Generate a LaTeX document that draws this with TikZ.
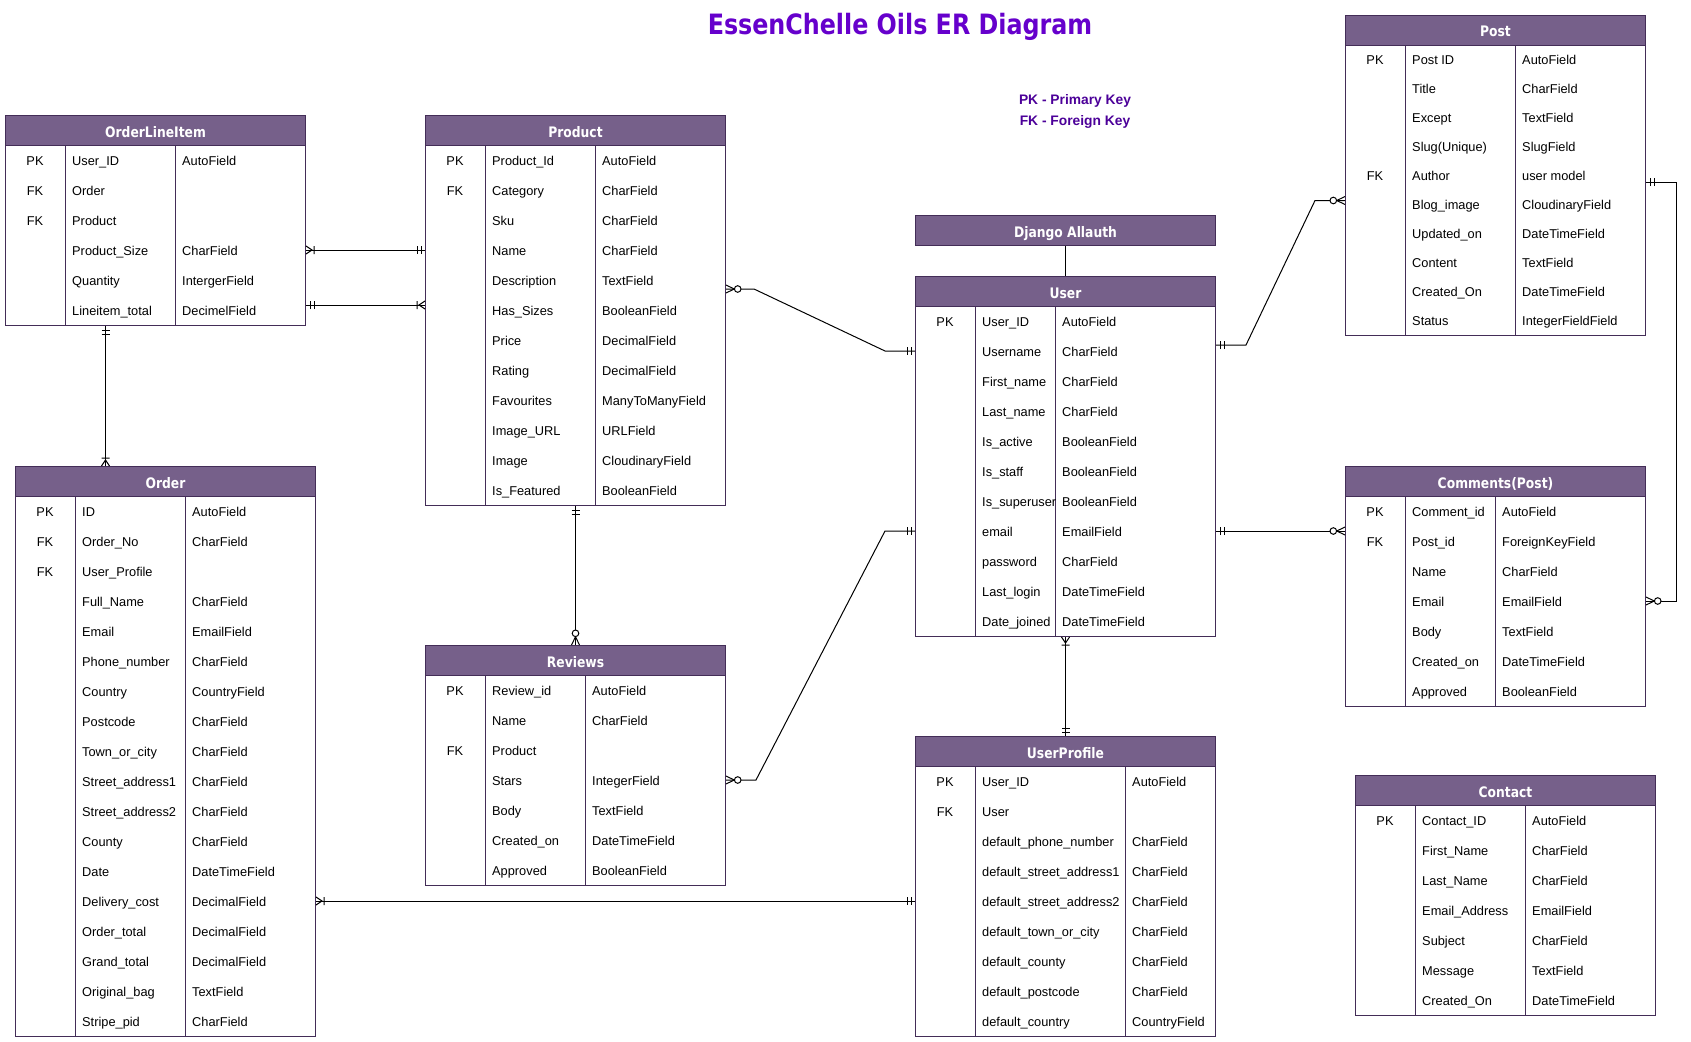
\documentclass[tikz,border=0pt]{standalone}
\usepackage{fontspec}
\setmainfont{Liberation Sans}
\newfontfamily\headface{DejaVu Sans}[FakeStretch=0.85]
\usetikzlibrary{arrows.meta,calc,positioning}

\definecolor{erfill}{HTML}{76608A}
\definecolor{erline}{HTML}{432D57}
\definecolor{titlepurple}{HTML}{6600CC}
\definecolor{keypurple}{HTML}{4C0099}

% crow's foot tips
\pgfdeclarearrow{
  name = ermandone,
  parameters = {\the\pgfarrowlength,\the\pgfarrowwidth},
  setup code = {
    \pgfarrowssettipend{\pgfarrowlength}
    \pgfarrowssetlineend{\pgfarrowlength}
    \pgfarrowshullpoint{0pt}{.5\pgfarrowwidth}
    \pgfarrowshullpoint{0pt}{-.5\pgfarrowwidth}
    \pgfarrowshullpoint{\pgfarrowlength}{.5\pgfarrowwidth}
    \pgfarrowshullpoint{\pgfarrowlength}{-.5\pgfarrowwidth}
    \pgfarrowssavethe\pgfarrowlength
    \pgfarrowssavethe\pgfarrowwidth
  },
  drawing code = {
    \pgfpathmoveto{\pgfqpoint{0pt}{.5\pgfarrowwidth}}
    \pgfpathlineto{\pgfqpoint{0pt}{-.5\pgfarrowwidth}}
    \pgfpathmoveto{\pgfqpoint{.5\pgfarrowlength}{.5\pgfarrowwidth}}
    \pgfpathlineto{\pgfqpoint{.5\pgfarrowlength}{-.5\pgfarrowwidth}}
    \pgfusepathqstroke
  },
  defaults = {length = 8pt, width = 8pt}
}
\pgfdeclarearrow{
  name = eronemany,
  parameters = {\the\pgfarrowlength,\the\pgfarrowwidth},
  setup code = {
    \pgfarrowssettipend{\pgfarrowlength}
    \pgfarrowssetlineend{\pgfarrowlength}
    \pgfarrowshullpoint{0pt}{.5\pgfarrowwidth}
    \pgfarrowshullpoint{0pt}{-.5\pgfarrowwidth}
    \pgfarrowshullpoint{\pgfarrowlength}{.5\pgfarrowwidth}
    \pgfarrowshullpoint{\pgfarrowlength}{-.5\pgfarrowwidth}
    \pgfarrowssavethe\pgfarrowlength
    \pgfarrowssavethe\pgfarrowwidth
  },
  drawing code = {
    \pgfpathmoveto{\pgfqpoint{\pgfarrowlength}{.5\pgfarrowwidth}}
    \pgfpathlineto{\pgfqpoint{.25\pgfarrowlength}{0pt}}
    \pgfpathlineto{\pgfqpoint{\pgfarrowlength}{-.5\pgfarrowwidth}}
    \pgfpathmoveto{\pgfqpoint{0pt}{.5\pgfarrowwidth}}
    \pgfpathlineto{\pgfqpoint{0pt}{-.5\pgfarrowwidth}}
    \pgfusepathqstroke
  },
  defaults = {length = 8pt, width = 8pt}
}
\pgfdeclarearrow{
  name = erzeromany,
  parameters = {\the\pgfarrowlength,\the\pgfarrowwidth},
  setup code = {
    \pgfarrowssettipend{\pgfarrowlength}
    \pgfarrowssetlineend{\pgfarrowlength}
    \pgfarrowshullpoint{0pt}{.5\pgfarrowwidth}
    \pgfarrowshullpoint{0pt}{-.5\pgfarrowwidth}
    \pgfarrowshullpoint{\pgfarrowlength}{.5\pgfarrowwidth}
    \pgfarrowshullpoint{\pgfarrowlength}{-.5\pgfarrowwidth}
    \pgfarrowssavethe\pgfarrowlength
    \pgfarrowssavethe\pgfarrowwidth
  },
  drawing code = {
    \pgfpathmoveto{\pgfqpoint{\pgfarrowlength}{.5\pgfarrowwidth}}
    \pgfpathlineto{\pgfqpoint{.45\pgfarrowlength}{0pt}}
    \pgfpathlineto{\pgfqpoint{\pgfarrowlength}{-.5\pgfarrowwidth}}
    \pgfusepathqstroke
    \pgfpathcircle{\pgfqpoint{.22\pgfarrowlength}{0pt}}{.22\pgfarrowlength}
    \pgfsetfillcolor{white}
    \pgfusepathqfillstroke
  },
  defaults = {length = 15pt, width = 8pt}
}

\tikzset{
  erhead/.style={draw=erline, fill=erfill, text=white, line width=1pt, inner sep=0pt,
    minimum width=300pt, minimum height=30pt, text height=13pt, text depth=0pt,
    font=\headface\bfseries\fontsize{14.5}{16}\selectfont},
  erbody/.style={draw=erline, line width=1pt, inner sep=0pt, minimum width=300pt},
  erkey/.style={inner sep=0pt, text height=10.5pt, text depth=0pt, font=\fontsize{12.8}{14}\selectfont},
  erfield/.style={erkey, anchor=west},
  erlink/.style={draw=black, line width=1pt},
  legend/.style={text=keypurple, inner sep=0pt, font=\bfseries\fontsize{13.8}{15}\selectfont},
}

% #1 name, #2 x, #3 y, #4 and #5 column offsets, #6 rows, #7 row height, #8 title, #9 fields
\newcommand{\ertable}[9]{%
  \node[erbody, anchor=north west, minimum height={#6*#7}] (#1) at ({#2}, {#3+30}) {};
  \node[erhead, anchor=north west] (#1-head) at (#2, #3) {#8};
  \draw[erline, line width=1pt] ({#2+#4}, {#3+30}) -- ++(0, {#6*#7})
    ({#2+#5}, {#3+30}) -- ++(0, {#6*#7});
  \foreach \pk/\fld/\typ [count=\i] in {#9} {
    \node[erkey] (#1-k\i) at ({#2+#4/2}, {#3+30+(\i-0.5)*#7}) {\pk};
    \begin{scope}
      \clip ({#2+#4}, {#3+30+(\i-1)*#7}) rectangle ({#2+#5}, {#3+30+\i*#7});
      \node[erfield] (#1-\i) at ({#2+#4+7}, {#3+30+(\i-0.5)*#7}) {\fld};
    \end{scope}
    \node[erfield] (#1-t\i) at ({#2+#5+7}, {#3+30+(\i-0.5)*#7}) {\typ};
  }
}

\begin{document}
\begin{tikzpicture}[x=1pt, y=-1pt]
  \fill[white] (0,0) rectangle (1691,1041);
  \useasboundingbox (0,0) rectangle (1691,1041);

  \node[text=titlepurple, font=\headface\bfseries\fontsize{28}{32}\selectfont] (title) at (900,27) {EssenChelle Oils ER Diagram};
  \node[legend] (pklegend) at (1075,101) {PK - Primary Key};
  \node[legend, below=8pt of pklegend] (fklegend) {FK - Foreign Key};

  \ertable{oli}{5}{115}{60}{170}{6}{30}{OrderLineItem}{
    PK/User\_ID/AutoField, FK/Order/, FK/Product/, /Product\_Size/CharField,
    /Quantity/IntergerField, /Lineitem\_total/DecimelField}

  \ertable{prod}{425}{115}{60}{170}{12}{30}{Product}{
    PK/Product\_Id/AutoField, FK/Category/CharField, /Sku/CharField, /Name/CharField,
    /Description/TextField, /Has\_Sizes/BooleanField, /Price/DecimalField,
    /Rating/DecimalField, /Favourites/ManyToManyField, /Image\_URL/URLField,
    /Image/CloudinaryField, /Is\_Featured/BooleanField}

  \ertable{order}{15}{466}{60}{170}{18}{30}{Order}{
    PK/ID/AutoField, FK/Order\_No/CharField, FK/User\_Profile/, /Full\_Name/CharField,
    /Email/EmailField, /Phone\_number/CharField, /Country/CountryField,
    /Postcode/CharField, /Town\_or\_city/CharField, /Street\_address1/CharField,
    /Street\_address2/CharField, /County/CharField, /Date/DateTimeField,
    /Delivery\_cost/DecimalField, /Order\_total/DecimalField,
    /Grand\_total/DecimalField, /Original\_bag/TextField, /Stripe\_pid/CharField}

  \ertable{rev}{425}{645}{60}{160}{7}{30}{Reviews}{
    PK/Review\_id/AutoField, /Name/CharField, FK/Product/, /Stars/IntegerField,
    /Body/TextField, /Created\_on/DateTimeField, /Approved/BooleanField}

  \ertable{user}{915}{276}{60}{140}{11}{30}{User}{
    PK/User\_ID/AutoField, /Username/CharField, /First\_name/CharField,
    /Last\_name/CharField, /Is\_active/BooleanField, /Is\_staff/BooleanField,
    /Is\_superuser/BooleanField, /email/EmailField, /password/CharField,
    /Last\_login/DateTimeField, /Date\_joined/DateTimeField}

  \ertable{uprof}{915}{736}{60}{210}{9}{30}{UserProfile}{
    PK/User\_ID/AutoField, FK/User/, /default\_phone\_number/CharField,
    /default\_street\_address1/CharField, /default\_street\_address2/CharField,
    /default\_town\_or\_city/CharField, /default\_county/CharField,
    /default\_postcode/CharField, /default\_country/CountryField}

  \ertable{post}{1345}{15}{60}{170}{10}{29}{Post}{
    PK/Post ID/AutoField, /Title/CharField, /Except/TextField, /Slug(Unique)/SlugField,
    FK/Author/user model, /Blog\_image/CloudinaryField, /Updated\_on/DateTimeField,
    /Content/TextField, /Created\_On/DateTimeField, /Status/IntegerFieldField}

  \ertable{com}{1345}{466}{60}{150}{7}{30}{Comments(Post)}{
    PK/Comment\_id/AutoField, FK/Post\_id/ForeignKeyField, /Name/CharField,
    /Email/EmailField, /Body/TextField, /Created\_on/DateTimeField, /Approved/BooleanField}

  \ertable{contact}{1355}{775}{60}{170}{7}{30}{Contact}{
    PK/Contact\_ID/AutoField, /First\_Name/CharField, /Last\_Name/CharField,
    /Email\_Address/EmailField, /Subject/CharField, /Message/TextField,
    /Created\_On/DateTimeField}

  \node[erhead, anchor=north west] (allauth) at (915,215) {Django Allauth};

  \coordinate (olidown) at ($(oli.south)+(-50,0)$);

  \draw[erlink] (allauth.south) -- (user-head.north);
  \draw[erlink, {eronemany}-{ermandone}] (oli-4 -| oli.east) -- (prod-4 -| prod.west);
  \draw[erlink, {ermandone}-{eronemany}] ($(oli-6 -| oli.east)+(0,-5)$) -- ($(prod-6 -| prod.west)+(0,-5)$);
  \draw[erlink, {ermandone}-{eronemany}] (olidown) -- (olidown |- order-head.north);
  \draw[erlink, {ermandone}-{erzeromany}] (prod.south) -- (rev-head.north);
  \draw[erlink, {erzeromany}-{ermandone}] ($(prod-5 -| prod.east)+(0,9)$) -- ++(28,0)
    -- ($(user-2 -| user.west)+(-30,0)$) -- (user-2 -| user.west);
  \draw[erlink, {erzeromany}-{ermandone}] (rev-4 -| rev.east) -- ++(30,0)
    -- ($(user-8 -| user.west)+(-30,0)$) -- (user-8 -| user.west);
  \draw[erlink, {ermandone}-{erzeromany}] ($(user-2 -| user.east)+(0,-6)$) -- ++(30,0)
    -- ($(post-6 -| post.west)+(-30,-4)$) -- ($(post-6 -| post.west)+(0,-4)$);
  \draw[erlink, {ermandone}-{erzeromany}] (user-8 -| user.east) -- (user-8 -| com.west);
  \draw[erlink, {ermandone}-{erzeromany}] ($(post-5 -| post.east)+(0,6.5)$) -- ++(30,0)
    |- (com-4 -| com.east);
  \draw[erlink, {eronemany}-{ermandone}] (user.south) -- (uprof-head.north);
  \draw[erlink, {eronemany}-{ermandone}] (order-14 -| order.east) -- (uprof-5 -| uprof.west);
\end{tikzpicture}
\end{document}
